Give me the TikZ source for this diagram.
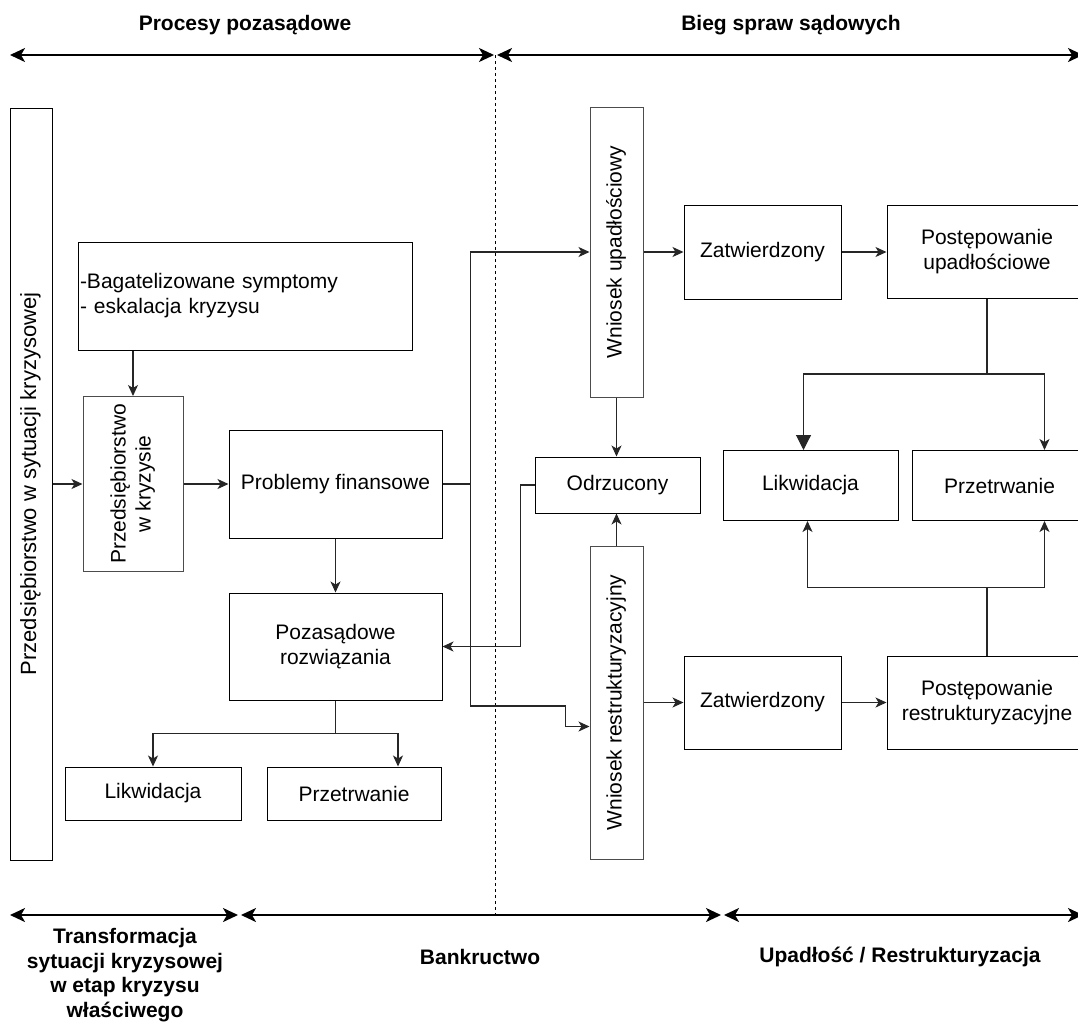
\documentclass[tikz,border=0pt]{standalone}
\usepackage{fontspec}
\setmainfont{Liberation Sans}
\usepackage{graphicx}
\usetikzlibrary{arrows.meta,positioning}
\newcommand{\pion}[1]{\rotatebox{90}{\begin{tabular}{@{}c@{}}#1\end{tabular}}}

\begin{document}
\begin{tikzpicture}[
        x=1pt, y=-1pt,
        node distance=40pt,
        >={Stealth[length=11pt,width=10pt,inset=3pt]},
        blok/.style={rectangle, draw=black, line width=1pt, inner sep=2pt, align=center, font=\fontsize{21}{25}\selectfont},
        szary/.style={draw=black!70},
        linia/.style={line width=1.1pt, draw=black!85},
        os/.style={line width=2pt, <->, >={Stealth[length=15pt,width=14pt,inset=4pt]}},
        tytul/.style={inner sep=0pt, align=center, font=\fontsize{21}{25}\selectfont\bfseries}
    ]
        \useasboundingbox (0,0) rectangle (1078,1023);

        % Osie i podpisy
        \coordinate (g1) at (10,55);
        \coordinate (g2) at (494,55);
        \coordinate (g3) at (497,55);
        \coordinate (g4) at (1083,55);
        \coordinate (d1) at (10,915);
        \coordinate (d2) at (238,915);
        \coordinate (d3) at (241,915);
        \coordinate (d4) at (721,915);
        \coordinate (d5) at (724,915);
        \coordinate (d6) at (1083,915);
        \draw[os] (g1) -- (g2);
        \draw[os] (g3) -- (g4);
        \draw[os] (d1) -- (d2);
        \draw[os] (d3) -- (d4);
        \draw[os] (d5) -- (d6);
        \draw[line width=0.8pt, dash pattern=on 3pt off 3pt] (495,55) -- (495,915);

        \node[tytul] (procesy) at (245,25) {Procesy pozasądowe};
        \node[tytul] (bieg) at (791,25) {Bieg spraw sądowych};
        \node[tytul, font=\fontsize{21}{24.5}\selectfont\bfseries] (transf) at (125,975) {Transformacja\\sytuacji kryzysowej\\w etap kryzysu\\właściwego};
        \node[tytul] (bankr) at (480,957) {Bankructwo};
        \node[tytul] (upadl) at (900,957) {Upadłość / Restrukturyzacja};

        % Węzły - procesy pozasądowe
        \node[blok, minimum width=42pt, minimum height=752pt, font=\fontsize{22}{26}\selectfont] (sytuacja) at (31,484) {\pion{Przedsiębiorstwo w sytuacji kryzysowej}};
        \node[blok, szary, minimum width=100pt, minimum height=175pt] (kryzys) [right=30pt of sytuacja] {\pion{Przedsiębiorstwo\\w kryzysie}};
        \node[blok, minimum width=334pt, minimum height=108pt, text width=330pt, align=left] (symptomy) at (245,296) {-Bagatelizowane symptomy\\- eskalacja kryzysu};
        \node[blok, minimum width=213pt, minimum height=108pt] (problemy) [right=45pt of kryzys] {Problemy finansowe};
        \node[blok, minimum width=213pt, minimum height=107pt] (pozasad) [below=54pt of problemy] {Pozasądowe\\rozwiązania};
        \node[blok, minimum width=176pt, minimum height=53pt] (likw1) at (153,793.5) {Likwidacja};
        \node[blok, minimum width=174pt, minimum height=53pt] (przetrw1) at (354,793.5) {Przetrwanie};

        % Węzły - bieg spraw sądowych
        \node[blok, szary, minimum width=53pt, minimum height=290pt] (wupad) at (616.5,252) {\pion{Wniosek upadłościowy}};
        \node[blok, minimum width=157pt, minimum height=94pt] (zatw1) [right=of wupad] {Zatwierdzony};
        \node[blok, minimum width=200pt, minimum height=93pt] (postupad) [right=45pt of zatw1] {Postępowanie\\upadłościowe};
        \node[blok, minimum width=165pt, minimum height=56pt] (odrz) at (617.5,485) {Odrzucony};
        \node[blok, minimum width=175pt, minimum height=70pt] (likw2) at (810.5,485.5) {Likwidacja};
        \node[blok, minimum width=175pt, minimum height=70pt] (przetrw2) [right=13pt of likw2] {Przetrwanie};
        \node[blok, szary, minimum width=53pt, minimum height=313pt] (wrestr) [below=148pt of wupad] {\pion{Wniosek restrukturyzacyjny}};
        \node[blok, minimum width=157pt, minimum height=93pt] (zatw2) [right=of wrestr] {Zatwierdzony};
        \node[blok, minimum width=200pt, minimum height=93pt] (postrestr) [right=45pt of zatw2] {Postępowanie\\restrukturyzacyjne};

        % Połączenia
        \draw[linia, ->] (sytuacja) -- (kryzys);
        \draw[linia, ->] (symptomy.south -| kryzys.north) -- (kryzys.north);
        \draw[linia, ->] (kryzys) -- (problemy);
        \draw[linia, ->] (problemy) -- (pozasad);
        \draw[linia, ->] (problemy.east) -- ++(28,0) |- (wupad.west);
        \draw[linia, ->] (problemy.east) -- ++(28,0) -- ++(0,222) -- ++(95,0) |- ([yshift=-24pt]wrestr.west);
        \draw[linia, ->] (odrz.west) -- ++(-14,0) |- (pozasad.east);
        \draw[linia] (pozasad.south) -- ++(0,33) coordinate (rozw1);
        \draw[linia, ->] (rozw1) -| (likw1.north);
        \draw[linia, ->] (rozw1) -| ([xshift=44pt]przetrw1.north);

        \draw[linia, ->] (wupad) -- (zatw1);
        \draw[linia, ->] (zatw1) -- (postupad);
        \draw[linia, ->] (wupad.south) -- (wupad.south |- odrz.north);
        \draw[linia, ->] (wrestr.north) -- (wrestr.north |- odrz.south);
        \draw[linia, ->] (wrestr) -- (zatw2);
        \draw[linia, ->] (zatw2) -- (postrestr);

        \draw[linia] (postupad.south) -- ++(0,75) coordinate (rozw2);
        \draw[linia, -{Triangle[length=15pt,width=15pt]}] (rozw2) -| ([xshift=-7pt]likw2.north);
        \draw[linia, ->] (rozw2) -| ([xshift=45pt]przetrw2.north);
        \draw[linia] (postrestr.north) -- ++(0,-68) coordinate (rozw3);
        \draw[linia, ->] (rozw3) -| ([xshift=-3pt]likw2.south);
        \draw[linia, ->] (rozw3) -| ([xshift=45pt]przetrw2.south);
    \end{tikzpicture}
\end{document}
